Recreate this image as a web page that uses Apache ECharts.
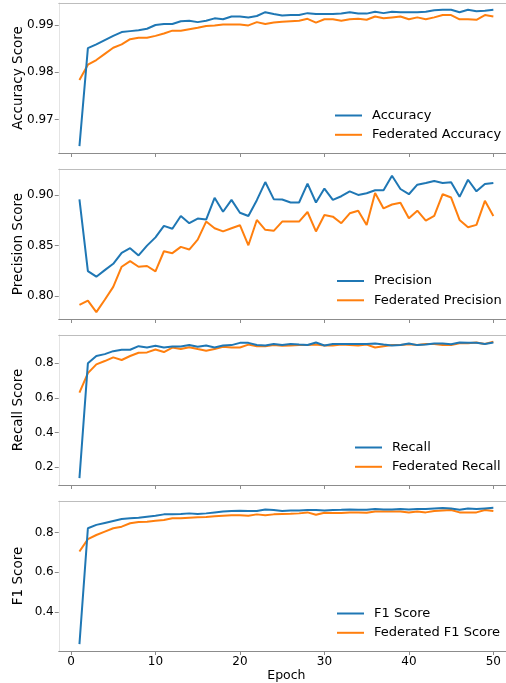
<!DOCTYPE html>
<html><head><meta charset="utf-8">
<script src="https://cdn.jsdelivr.net/npm/echarts@6/dist/echarts.min.js"></script>
<style>html,body{margin:0;padding:0;background:#fff}#c{width:506px;height:683px}</style>
</head><body><div id="c"></div>
<script>
const epochs = [1,2,3,4,5,6,7,8,9,10,11,12,13,14,15,16,17,18,19,20,21,22,23,24,25,26,27,28,29,30,31,32,33,34,35,36,37,38,39,40,41,42,43,44,45,46,47,48,49,50];
const xTickLabels = [0,10,20,30,40,50];

const accuracy = [0.9644,0.9851,0.9859,0.9868,0.9877,0.9885,0.9887,0.9889,0.9892,0.9900,
  0.9902,0.9902,0.9908,0.9909,0.9906,0.9909,0.9914,0.9912,0.9918,0.9918,
  0.9916,0.9919,0.9927,0.9923,0.9920,0.9921,0.9921,0.9925,0.9923,0.9923,
  0.9923,0.9924,0.9927,0.9924,0.9924,0.9928,0.9925,0.9928,0.9927,0.9927,
  0.9927,0.9928,0.9931,0.9932,0.9932,0.9927,0.9932,0.9929,0.9930,0.9932];
const fedAccuracy = [0.9784,0.9816,0.9826,0.9839,0.9852,0.9859,0.9870,0.9873,0.9873,0.9877,
  0.9882,0.9888,0.9888,0.9891,0.9894,0.9898,0.9899,0.9901,0.9901,0.9901,
  0.9899,0.9906,0.9902,0.9905,0.9907,0.9908,0.9909,0.9913,0.9905,0.9912,
  0.9912,0.9909,0.9912,0.9913,0.9911,0.9918,0.9914,0.9916,0.9918,0.9912,
  0.9916,0.9912,0.9916,0.9921,0.9921,0.9912,0.9912,0.9911,0.9921,0.9918];
const precision = [0.8958,0.8246,0.8190,0.8255,0.8318,0.8427,0.8473,0.8401,0.8499,0.8581,
  0.8695,0.8666,0.8794,0.8722,0.8768,0.8758,0.8974,0.8836,0.8954,0.8826,
  0.8794,0.8951,0.9131,0.8961,0.8957,0.8928,0.8928,0.9115,0.8928,0.9066,
  0.8954,0.8990,0.9039,0.9003,0.9020,0.9049,0.9049,0.9193,0.9062,0.9010,
  0.9105,0.9121,0.9141,0.9121,0.9128,0.8984,0.9154,0.9039,0.9111,0.9121];
const fedPrecision = [0.7909,0.7951,0.7837,0.7961,0.8089,0.8289,0.8345,0.8289,0.8296,0.8243,
  0.8443,0.8424,0.8486,0.8460,0.8558,0.8738,0.8672,0.8640,0.8672,0.8702,
  0.8502,0.8754,0.8656,0.8646,0.8738,0.8738,0.8738,0.8833,0.8640,0.8803,
  0.8787,0.8722,0.8820,0.8846,0.8705,0.9023,0.8869,0.8908,0.8925,0.8771,
  0.8846,0.8748,0.8794,0.9010,0.8977,0.8754,0.8682,0.8705,0.8944,0.8794];
const recall = [0.137,0.800,0.842,0.853,0.870,0.878,0.878,0.899,0.891,0.901,
  0.891,0.897,0.897,0.906,0.895,0.903,0.891,0.903,0.905,0.918,
  0.918,0.906,0.903,0.912,0.905,0.912,0.908,0.906,0.920,0.903,
  0.912,0.912,0.912,0.912,0.912,0.914,0.908,0.903,0.906,0.914,
  0.905,0.908,0.914,0.914,0.910,0.920,0.918,0.918,0.912,0.920];
const fedRecall = [0.631,0.743,0.794,0.813,0.834,0.819,0.842,0.861,0.863,0.880,
  0.865,0.891,0.882,0.893,0.882,0.873,0.882,0.895,0.891,0.891,
  0.908,0.899,0.899,0.906,0.901,0.903,0.906,0.906,0.908,0.903,
  0.903,0.908,0.906,0.903,0.908,0.891,0.899,0.906,0.906,0.910,
  0.906,0.912,0.912,0.906,0.906,0.916,0.916,0.920,0.912,0.924];
const f1 = [0.238,0.822,0.839,0.849,0.859,0.869,0.872,0.875,0.880,0.885,
  0.892,0.892,0.894,0.897,0.894,0.897,0.902,0.906,0.909,0.910,
  0.909,0.909,0.917,0.914,0.909,0.912,0.912,0.914,0.914,0.912,
  0.914,0.915,0.917,0.915,0.915,0.919,0.917,0.917,0.919,0.917,
  0.919,0.919,0.922,0.924,0.922,0.915,0.922,0.919,0.922,0.925];
const fedF1 = [0.705,0.767,0.788,0.805,0.822,0.830,0.847,0.854,0.855,0.860,
  0.864,0.872,0.872,0.875,0.877,0.879,0.882,0.885,0.887,0.887,
  0.885,0.892,0.887,0.892,0.894,0.895,0.897,0.902,0.890,0.900,
  0.899,0.899,0.902,0.902,0.900,0.907,0.906,0.907,0.907,0.902,
  0.906,0.902,0.909,0.912,0.914,0.902,0.902,0.902,0.914,0.909];

const accuracyTicks = [0.97,0.98,0.99];
const precisionTicks = [0.80,0.85,0.90];
const recallTicks = [0.2,0.4,0.6,0.8];
const f1Ticks = [0.4,0.6,0.8];

const yTitles = ['Accuracy Score','Precision Score','Recall Score','F1 Score'];
const seriesNames = [['Accuracy','Federated Accuracy'],['Precision','Federated Precision'],['Recall','Federated Recall'],['F1 Score','Federated F1 Score']];

const panels = [
  {a: accuracy, b: fedAccuracy, ticks: accuracyTicks, dec: 2},
  {a: precision, b: fedPrecision, ticks: precisionTicks, dec: 2},
  {a: recall, b: fedRecall, ticks: recallTicks, dec: 1},
  {a: f1, b: fedF1, ticks: f1Ticks, dec: 1}
];

// layout
const FONT = 'DejaVu Sans';
const gridLeft = 58.75, gridWidth = 455.3, gridHeight = 150;
const gridTops = [3, 169, 335, 501];
const legendPos = [[335,108],[337,273.5],[355,440],[337,606]];
const BLUE = '#1f77b4', ORANGE = '#ff7f0e';

function pad(lo, hi){ const p = (hi-lo)*0.05; return [lo-p, hi+p]; }
const xr = pad(Math.min(...epochs), Math.max(...epochs));

const grid = [], xAxis = [], yAxis = [], series = [], legend = [];
panels.forEach((p, i) => {
  grid.push({left: gridLeft, top: gridTops[i], width: gridWidth, height: gridHeight,
    containLabel: false, outerBoundsMode: 'none'});
  const all = p.a.concat(p.b);
  const yr = pad(Math.min(...all), Math.max(...all));
  xAxis.push({
    type: 'value', gridIndex: i, min: xr[0], max: xr[1],
    axisLine: {show: true, onZero: false, lineStyle: {color: '#8c8c8c', width: 1}},
    axisTick: {show: true, customValues: xTickLabels, length: 4, lineStyle: {color: '#8c8c8c'}},
    axisLabel: {show: i === 3, customValues: xTickLabels, fontFamily: FONT, fontSize: 12, color: '#000', margin: 5},
    splitLine: {show: false},
    name: i === 3 ? 'Epoch' : '', nameLocation: 'middle', nameGap: 17,
    nameTextStyle: {fontFamily: FONT, fontSize: 12.5, color: '#000'}
  });
  yAxis.push({
    type: 'value', gridIndex: i, min: yr[0], max: yr[1],
    axisLine: {show: true, onZero: false, lineStyle: {color: '#e4e4e4', width: 1}},
    axisTick: {show: true, customValues: p.ticks, length: 4, lineStyle: {color: '#8c8c8c'}},
    axisLabel: {customValues: p.ticks, fontFamily: FONT, fontSize: 12, color: '#000', margin: 5,
      formatter: v => Number(v).toFixed(p.dec)},
    splitLine: {show: false},
    name: yTitles[i], nameLocation: 'middle', nameGap: 33, nameRotate: 90, nameMoveOverlap: false,
    nameTextStyle: {fontFamily: FONT, fontSize: 13.5, color: '#000'}
  });
  series.push({
    name: seriesNames[i][0], type: 'line', xAxisIndex: i, yAxisIndex: i,
    data: epochs.map((e, j) => [e, p.a[j]]), symbol: 'none',
    lineStyle: {color: BLUE, width: 2}, itemStyle: {color: BLUE}, z: 3
  });
  series.push({
    name: seriesNames[i][1], type: 'line', xAxisIndex: i, yAxisIndex: i,
    data: epochs.map((e, j) => [e, p.b[j]]), symbol: 'none',
    lineStyle: {color: ORANGE, width: 2}, itemStyle: {color: ORANGE}, z: 2
  });
  legend.push({
    data: seriesNames[i], orient: 'vertical', left: legendPos[i][0], top: legendPos[i][1],
    padding: 0, icon: 'rect', itemWidth: 27, itemHeight: 2, itemGap: 4.3, selectedMode: false,
    textStyle: {fontFamily: FONT, fontSize: 13, color: '#000', lineHeight: 15, padding: [0,0,0,5]}
  });
});
// top spines
panels.forEach((p, i) => {
  xAxis.push({
    type: 'value', gridIndex: i, position: 'top', min: xr[0], max: xr[1],
    axisLine: {show: true, onZero: false, lineStyle: {color: '#bdbdbd', width: 1}},
    axisTick: {show: false}, axisLabel: {show: false}, splitLine: {show: false}
  });
});

const chart = echarts.init(document.getElementById('c'), null, {renderer: 'canvas'});
chart.setOption({animation: false, backgroundColor: '#fff', grid, xAxis, yAxis, series, legend});
</script></body></html>
